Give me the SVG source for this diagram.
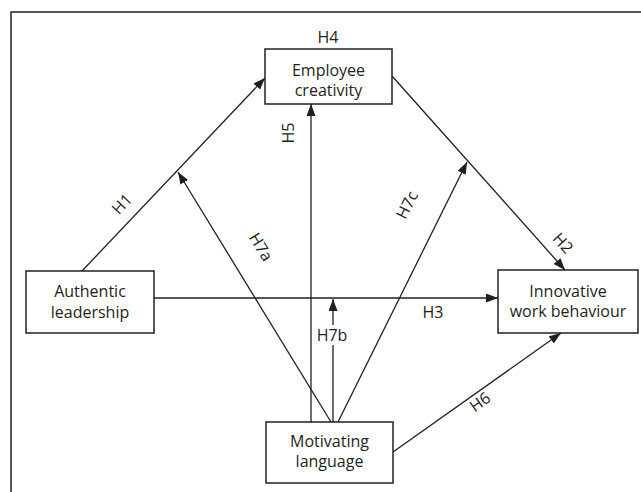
<svg xmlns="http://www.w3.org/2000/svg" width="641" height="492" viewBox="0 0 641 492">
  <style>
    .frame { fill: none; stroke: #231f20; stroke-width: 1.5; }
    .box { fill: #ffffff; stroke: #231f20; stroke-width: 1.5; }
    .edge { fill: none; stroke: #231f20; stroke-width: 1.3; }
    .label { font-family: "Open Sans", "Liberation Sans", sans-serif; font-size: 16px; fill: #231f20; text-anchor: middle; }
  </style>
  <defs>
    <marker id="arrow" markerUnits="userSpaceOnUse" markerWidth="13" markerHeight="10" refX="12" refY="4.5" orient="auto">
      <path d="M0,0 L12,4.5 L0,9 z" fill="#231f20"/>
    </marker>
  </defs>

  <rect width="641" height="492" fill="#ffffff"/>
  <!-- outer frame (top and left edges) -->
  <path class="frame" d="M641,12 H11 V492"/>

  <g id="connectors">
    <!-- H1: authentic leadership -> employee creativity -->
    <path class="edge" d="M82,271 L265,78" marker-end="url(#arrow)"/>
    <!-- H2: employee creativity -> innovative work behaviour -->
    <path class="edge" d="M392,76 L565,270" marker-end="url(#arrow)"/>
    <!-- H3: authentic leadership -> innovative work behaviour -->
    <path class="edge" d="M154,298 L498,298" marker-end="url(#arrow)"/>
    <!-- H5: motivating language -> employee creativity -->
    <path class="edge" d="M311,422 L311,104" marker-end="url(#arrow)"/>
    <!-- H6: motivating language -> innovative work behaviour -->
    <path class="edge" d="M393,452 L561,333" marker-end="url(#arrow)"/>
    <!-- H7a: moderation of H1 -->
    <path class="edge" d="M331,422 L178,172" marker-end="url(#arrow)"/>
    <!-- H7b: moderation of H3 (line broken around its label) -->
    <path class="edge" d="M333,422 L333,345"/>
    <path class="edge" d="M333,325 L333,299" marker-end="url(#arrow)"/>
    <!-- H7c: moderation of H2 -->
    <path class="edge" d="M338,422 L467,162" marker-end="url(#arrow)"/>

    <text class="label" transform="translate(122,204) rotate(-46.5)" dy="0.35em">H1</text>
    <text class="label" transform="translate(563,243) rotate(48.3)" dy="0.35em">H2</text>
    <text class="label" x="433" y="318">H3</text>
    <text class="label" x="328" y="43">H4</text>
    <text class="label" transform="translate(288,133) rotate(-90)" dy="0.35em">H5</text>
    <text class="label" transform="translate(480,402) rotate(-35.3)" dy="0.35em">H6</text>
    <text class="label" transform="translate(261,247) rotate(58.5)" dy="0.35em">H7a</text>
    <text class="label" x="332" y="341">H7b</text>
    <text class="label" transform="translate(407,205) rotate(-63.4)" dy="0.35em">H7c</text>
  </g>

  <g id="employee-creativity">
    <rect class="box" x="265" y="49" width="127" height="55"/>
    <text class="label" x="328.5" y="75.5">Employee</text>
    <text class="label" x="328.5" y="96">creativity</text>
  </g>

  <g id="authentic-leadership">
    <rect class="box" x="26" y="271" width="128" height="62"/>
    <text class="label" x="90" y="297">Authentic</text>
    <text class="label" x="90" y="318">leadership</text>
  </g>

  <g id="innovative-work-behaviour">
    <rect class="box" x="498" y="270" width="140" height="63"/>
    <text class="label" x="568" y="297">Innovative</text>
    <text class="label" x="568" y="317">work behaviour</text>
  </g>

  <g id="motivating-language">
    <rect class="box" x="266" y="422" width="127" height="61"/>
    <text class="label" x="329.5" y="447">Motivating</text>
    <text class="label" x="329.5" y="467">language</text>
  </g>
</svg>
